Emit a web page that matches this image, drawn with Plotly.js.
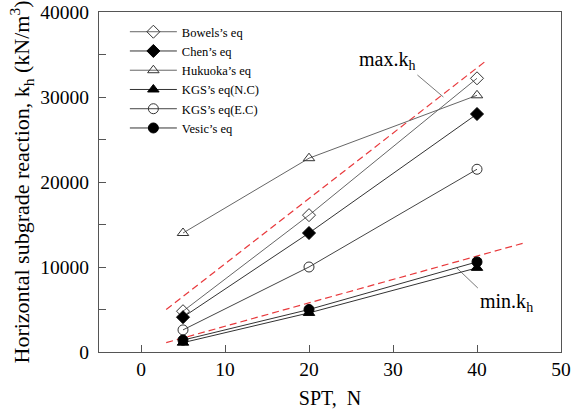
<!DOCTYPE html>
<html><head><meta charset="utf-8">
<script src="https://cdn.plot.ly/plotly-3.0.1.min.js"></script>
<style>html,body{margin:0;padding:0;background:#fff}</style>
</head><body><div id="chart" style="width:573px;height:409px"></div>
<script>
const spt = [5, 20, 40];
const bowels = [4800, 16100, 32200];
const chen = [4100, 14000, 28000];
const hukuoka = [14000, 22800, 30200];
const kgsNC = [1100, 4600, 9900];
const kgsEC = [2600, 10000, 21500];
const vesic = [1400, 5000, 10600];
const maxX = [3, 41];
const maxY = [5000, 34200];
const minX = [3, 45.5];
const minY = [1100, 12800];
const names = ["Bowels’s eq", "Chen’s eq", "Hukuoka’s eq", "KGS’s eq(N.C)", "KGS’s eq(E.C)", "Vesic’s eq"];

const FONT = "'Liberation Serif', 'Times New Roman', serif";
function series(name, y, symbol, lineColor, size) {
  const open = symbol.indexOf('open') >= 0;
  return {
    x: spt, y: y, name: name, type: 'scatter', mode: 'lines+markers',
    line: {color: lineColor, width: 1},
    marker: {symbol: symbol, size: size, color: open ? '#333' : '#000',
             line: {color: open ? '#333' : '#000', width: 1}}
  };
}
const traces = [
  {x: maxX, y: maxY, type: 'scatter', mode: 'lines', showlegend: false,
   line: {color: '#e8393c', width: 1.2, dash: '7px,4px'}},
  {x: minX, y: minY, type: 'scatter', mode: 'lines', showlegend: false,
   line: {color: '#e8393c', width: 1.2, dash: '7px,4px'}},
  series(names[0], bowels, 'diamond-open', '#666', 10),
  series(names[1], chen, 'diamond', '#333', 10),
  series(names[2], hukuoka, 'triangle-up-open', '#666', 10),
  series(names[3], kgsNC, 'triangle-up', '#333', 10),
  series(names[4], kgsEC, 'circle-open', '#444', 10),
  series(names[5], vesic, 'circle', '#333', 10)
];
const layout = {
  width: 573, height: 409,
  margin: {l: 99, r: 12, t: 12, b: 57},
  paper_bgcolor: '#fff', plot_bgcolor: '#fff',
  font: {family: FONT, color: '#000', size: 19},
  showlegend: true,
  legend: {x: 0.056, y: 0.985, xanchor: 'left', yanchor: 'top',
           font: {family: FONT, size: 12.5, color: '#000'},
           itemwidth: 47,
           bgcolor: 'rgba(0,0,0,0)', tracegroupgap: 0},
  xaxis: {range: [-5, 50], dtick: 10, tick0: 0, ticks: 'inside', ticklen: 7,
          tickcolor: '#555', showline: true, linecolor: '#555', mirror: true,
          showgrid: false, zeroline: false,
          tickfont: {family: FONT, size: 19.5},
          title: {text: 'SPT,  N', font: {family: FONT, size: 20}, standoff: 11}},
  yaxis: {range: [0, 40000], dtick: 10000, tickformat: 'd', ticks: 'inside', ticklen: 7,
          tickcolor: '#555', showline: true, linecolor: '#555', mirror: true,
          showgrid: false, zeroline: false, ticklabelstandoff: 5,
          minor: {dtick: 5000, ticks: 'inside', ticklen: 7, tickcolor: '#555'},
          tickfont: {family: FONT, size: 19.5},
          title: {text: 'Horizontal subgrade reaction, k<sub>h</sub> (kN/m<sup>3</sup>)',
                  font: {family: FONT, size: 22}, standoff: 4}},
  annotations: [
    {x: 36, y: 30000, xref: 'x', yref: 'y', text: 'max.k<sub>h</sub>', showarrow: true,
     arrowhead: 0, arrowwidth: 0.8, arrowcolor: '#555', ax: -26, ay: -22,
     xanchor: 'right', yanchor: 'bottom', font: {family: FONT, size: 20}},
    {x: 37.6, y: 9880, xref: 'x', yref: 'y', text: 'min.k<sub>h</sub>', showarrow: true,
     arrowhead: 0, arrowwidth: 0.8, arrowcolor: '#555', ax: 21, ay: 20,
     xanchor: 'left', yanchor: 'top', font: {family: FONT, size: 20}}
  ]
};
Plotly.newPlot('chart', traces, layout, {displayModeBar: false, staticPlot: true});
</script></body></html>
